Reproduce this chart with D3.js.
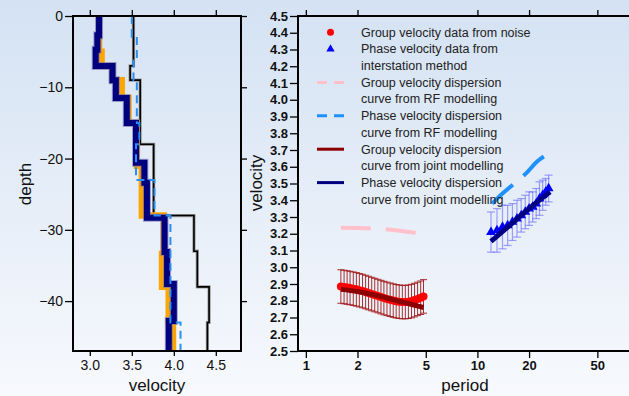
<!DOCTYPE html>
<html><head><meta charset="utf-8">
<script src="https://cdn.jsdelivr.net/npm/d3@7"></script>
<style>html,body{margin:0;padding:0;background:#fff;} svg{display:block;}</style>
</head><body>
<script>
// ---------- data ----------
const depthTicks = [0, -10, -20, -30, -40];
const velTicksLeft = [3.0, 3.5, 4.0, 4.5];
const velTicksRight = [2.5,2.6,2.7,2.8,2.9,3.0,3.1,3.2,3.3,3.4,3.5,3.6,3.7,3.8,3.9,4.0,4.1,4.2,4.3,4.4,4.5];
const periodTicks = [1, 2, 5, 10, 20, 50];
const periodTicksTop = [1, 2, 10, 20, 50];

// depth profiles: layer boundaries (km) and layer velocities
const initDepth = [0, 7, 9, 18, 28, 33, 38, 43, 47];
const initVel   = [3.52, 3.48, 3.60, 3.76, 4.24, 4.28, 4.42, 4.40];
const orangeDepth = [0, 5, 7, 9, 11.5, 15, 21, 28, 33.4, 38, 43, 47];
const orangeVel   = [3.11, 3.14, 3.27, 3.38, 3.46, 3.56, 3.62, 3.88, 3.86, 3.94, 3.99];
const jointDepth = [0, 2.7, 4.75, 7, 9, 11.5, 15, 20.6, 23.4, 28.3, 33.1, 37.6, 42.8, 47];
const jointVel   = [3.11, 3.09, 3.07, 3.27, 3.31, 3.44, 3.55, 3.65, 3.68, 3.89, 3.92, 4.00, 3.94];
const rfDepth = [0, 2.9, 6, 9, 15, 18, 23, 28, 43, 47];
const rfVel   = [3.50, 3.56, 3.52, 3.56, 3.59, 3.55, 3.77, 3.96, 4.08];

// dispersion data
const groupPeriod = [1.6,1.67,1.74,1.81,1.89,1.97,2.05,2.14,2.23,2.32,2.42,2.52,2.63,2.74,2.85,2.97,3.1,3.23,3.36,3.5,3.65,3.8,3.96,4.13,4.3,4.48,4.67,4.85];
const groupVel    = [2.885,2.882,2.879,2.876,2.872,2.868,2.863,2.858,2.852,2.846,2.840,2.834,2.828,2.822,2.816,2.811,2.806,2.801,2.797,2.794,2.792,2.792,2.794,2.798,2.804,2.811,2.818,2.826];
const groupErr    = [0.10,0.10,0.10,0.10,0.10,0.10,0.10,0.10,0.10,0.10,0.10,0.10,0.10,0.10,0.10,0.10,0.10,0.10,0.10,0.10,0.10,0.10,0.10,0.10,0.10,0.10,0.10,0.10];
const phasePeriod = [12,13,14,15,16,17,18,19,20,21,22,23,24,25,26];
const phaseVel    = [3.21,3.22,3.24,3.25,3.27,3.29,3.31,3.33,3.35,3.36,3.38,3.41,3.43,3.45,3.47];
const phaseErr    = [0.12,0.13,0.13,0.12,0.11,0.11,0.10,0.10,0.10,0.09,0.09,0.10,0.09,0.08,0.08];

const rfGroupPeriod = [1.6, 2, 2.5, 3, 3.5, 4, 4.5];
const rfGroupVel    = [3.236, 3.235, 3.232, 3.226, 3.218, 3.211, 3.205];
const rfPhasePeriod = [12.2, 14, 16.2, 19.4, 22.2, 26.2];
const rfPhaseVel    = [3.38, 3.44, 3.495, 3.565, 3.63, 3.68];
const jointGroupPeriod = [1.6, 2, 2.5, 3, 3.5, 4, 4.5, 4.85];
const jointGroupVel    = [2.868, 2.855, 2.835, 2.815, 2.797, 2.782, 2.768, 2.76];
const jointPhasePeriod = [12, 15, 20, 26.5];
const jointPhaseVel    = [3.155, 3.24, 3.35, 3.45];

const legendLabels = [
  ["Group velocity data from noise"],
  ["Phase velocity data from", "interstation method"],
  ["Group velocity dispersion", "curve from RF modelling"],
  ["Phase velocity dispersion", "curve from RF modelling"],
  ["Group velocity dispersion", "curve from joint modelling"],
  ["Phase velocity dispersion", "curve from joint modelling"]
];

// ---------- drawing ----------
const W = 629, H = 396;
const FONT = "'Liberation Sans', Arial, Helvetica, sans-serif";
const svg = d3.select("body").append("svg").attr("width", W).attr("height", H)
  .style("font-family", FONT);

const defs = svg.append("defs");
const grad = defs.append("linearGradient").attr("id", "bg").attr("x1", 0).attr("y1", 0).attr("x2", 0).attr("y2", 1);
grad.append("stop").attr("offset", "0%").attr("stop-color", "#d4e2f3");
grad.append("stop").attr("offset", "100%").attr("stop-color", "#f7f9fd");
svg.append("rect").attr("width", W).attr("height", H).attr("fill", "url(#bg)");

// ---- left panel ----
const L = {x0: 73, x1: 241, y0: 16, y1: 351};
const xL = d3.scaleLinear().domain([2.8, 4.8]).range([L.x0, L.x1]);
const yL = d3.scaleLinear().domain([0, -47]).range([L.y0, L.y1]);

function stepPts(depths, vels) {
  const pts = [];
  vels.forEach((v, i) => { pts.push([v, -depths[i]]); pts.push([v, -depths[i + 1]]); });
  return pts;
}
const lineL = d3.line().x(d => xL(d[0])).y(d => yL(d[1]));
const gL = svg.append("g");
gL.append("path").attr("d", lineL(stepPts(initDepth, initVel))).attr("fill", "none")
  .attr("stroke", "#9a9a9a").attr("stroke-width", 3.2);
gL.append("path").attr("d", lineL(stepPts(initDepth, initVel))).attr("fill", "none")
  .attr("stroke", "#000").attr("stroke-width", 1.6);
gL.append("path").attr("d", lineL(stepPts(orangeDepth, orangeVel))).attr("fill", "none")
  .attr("stroke", "#ffa500").attr("stroke-width", 6.5);
gL.append("path").attr("d", lineL(stepPts(jointDepth, jointVel))).attr("fill", "none")
  .attr("stroke", "#6a6ab8").attr("stroke-width", 8).attr("stroke-opacity", 0.6);
gL.append("path").attr("d", lineL(stepPts(jointDepth, jointVel))).attr("fill", "none")
  .attr("stroke", "#00007e").attr("stroke-width", 6);
gL.append("path").attr("d", lineL(stepPts(rfDepth, rfVel))).attr("fill", "none")
  .attr("stroke", "#2a8ff0").attr("stroke-width", 2).attr("stroke-dasharray", "8,5");

svg.append("rect").attr("x", L.x0).attr("y", L.y0).attr("width", L.x1 - L.x0).attr("height", L.y1 - L.y0)
  .attr("fill", "none").attr("stroke", "#000").attr("stroke-width", 2);

function styleAxis(g, fs, weight) {
  g.select(".domain").remove();
  g.selectAll(".tick line").attr("stroke", "#000").attr("stroke-width", 1.3);
  g.selectAll(".tick text").attr("fill", "#111").style("font-size", fs + "px").style("font-weight", weight).style("font-family", FONT);
}
svg.append("g").attr("transform", `translate(${L.x0},0)`)
  .call(d3.axisLeft(yL).tickValues(depthTicks).tickSize(8).tickPadding(2))
  .call(g => styleAxis(g, 14, "normal"));
svg.append("g").attr("transform", `translate(${L.x1},0)`)
  .call(d3.axisRight(yL).tickValues(depthTicks).tickSize(6).tickFormat(""))
  .call(g => styleAxis(g, 14, "normal"));
svg.append("g").attr("transform", `translate(0,${L.y1})`)
  .call(d3.axisBottom(xL).tickValues(velTicksLeft).tickSize(5).tickPadding(4).tickFormat(d3.format(".1f")))
  .call(g => styleAxis(g, 14, "normal"));
svg.append("g").attr("transform", `translate(0,${L.y0})`)
  .call(d3.axisTop(xL).tickValues(velTicksLeft).tickSize(6).tickFormat(""))
  .call(g => styleAxis(g, 14, "normal"));

svg.append("text").attr("x", 157).attr("y", 391).attr("text-anchor", "middle")
  .style("font-size", "17px").style("font-weight", "normal").attr("fill", "#111").text("velocity");
svg.append("text").attr("transform", "translate(31,184) rotate(-90)").attr("text-anchor", "middle")
  .style("font-size", "17px").style("font-weight", "normal").attr("fill", "#111").text("depth");

// ---- right panel ----
const R = {x0: 298, x1: 649, y0: 16, y1: 351};
const xR = d3.scaleLog().domain([0.9, 100]).range([R.x0, R.x1]);
const yR = d3.scaleLinear().domain([2.5, 4.5]).range([R.y1, R.y0]);
const lineR = d3.line().x(d => xR(d[0])).y(d => yR(d[1])).curve(d3.curveMonotoneX);
const gR = svg.append("g");

gR.append("path").attr("d", lineR(rfGroupPeriod.map((p, i) => [p, rfGroupVel[i]])))
  .attr("fill", "none").attr("stroke", "#ffc0cb").attr("stroke-width", 4).attr("stroke-dasharray", "30,15");
gR.append("path").attr("d", lineR(rfPhasePeriod.map((p, i) => [p, rfPhaseVel[i]])))
  .attr("fill", "none").attr("stroke", "#1e90ff").attr("stroke-width", 4).attr("stroke-dasharray", "28,14");

// group error bars
const ge = gR.append("g").attr("stroke", "#a01818").attr("stroke-width", 1).attr("stroke-opacity", 0.9);
groupPeriod.forEach((p, i) => {
  const x = xR(p), yt = yR(groupVel[i] + groupErr[i]), yb = yR(groupVel[i] - groupErr[i]);
  ge.append("line").attr("x1", x).attr("x2", x).attr("y1", yt).attr("y2", yb);
  ge.append("line").attr("x1", x - 3.5).attr("x2", x + 3.5).attr("y1", yt).attr("y2", yt);
  ge.append("line").attr("x1", x - 3.5).attr("x2", x + 3.5).attr("y1", yb).attr("y2", yb);
});
gR.append("g").selectAll("circle").data(groupPeriod).join("circle")
  .attr("cx", d => xR(d)).attr("cy", (d, i) => yR(groupVel[i])).attr("r", 4).attr("fill", "#ff0000");

// phase error bars
const pe = gR.append("g").attr("stroke", "#5a5aff").attr("stroke-width", 1.2).attr("stroke-opacity", 0.55);
phasePeriod.forEach((p, i) => {
  const x = xR(p), yt = yR(phaseVel[i] + phaseErr[i]), yb = yR(phaseVel[i] - phaseErr[i]);
  pe.append("line").attr("x1", x).attr("x2", x).attr("y1", yt).attr("y2", yb);
  pe.append("line").attr("x1", x - 4).attr("x2", x + 4).attr("y1", yt).attr("y2", yt);
  pe.append("line").attr("x1", x - 4).attr("x2", x + 4).attr("y1", yb).attr("y2", yb);
});
const tri = d3.symbol().type(d3.symbolTriangle).size(42);
gR.append("g").selectAll("path").data(phasePeriod).join("path")
  .attr("d", tri).attr("transform", (d, i) => `translate(${xR(d)},${yR(phaseVel[i])})`).attr("fill", "#0000ff");

gR.append("path").attr("d", lineR(jointGroupPeriod.map((p, i) => [p, jointGroupVel[i]])))
  .attr("fill", "none").attr("stroke", "#8b0000").attr("stroke-width", 5);
gR.append("path").attr("d", lineR(jointPhasePeriod.map((p, i) => [p, jointPhaseVel[i]])))
  .attr("fill", "none").attr("stroke", "#000080").attr("stroke-width", 5);

svg.append("rect").attr("x", R.x0).attr("y", R.y0).attr("width", R.x1 - R.x0).attr("height", R.y1 - R.y0)
  .attr("fill", "none").attr("stroke", "#000").attr("stroke-width", 2);

svg.append("g").attr("transform", `translate(${R.x0},0)`)
  .call(d3.axisLeft(yR).tickValues(velTicksRight).tickSize(8).tickPadding(2).tickFormat(d3.format(".1f")))
  .call(g => styleAxis(g, 13, "bold"));
svg.append("g").attr("transform", `translate(0,${R.y1})`)
  .call(d3.axisBottom(xR).tickValues(periodTicks).tickSize(7).tickPadding(3).tickFormat(d3.format("d")))
  .call(g => styleAxis(g, 13, "bold"));
svg.append("g").attr("transform", `translate(0,${R.y0})`)
  .call(d3.axisTop(xR).tickValues(periodTicksTop).tickSize(6).tickFormat(""))
  .call(g => styleAxis(g, 13, "bold"));

svg.append("text").attr("x", 465).attr("y", 391).attr("text-anchor", "middle")
  .style("font-size", "17px").style("font-weight", "normal").attr("fill", "#111").text("period");
svg.append("text").attr("transform", "translate(262,183) rotate(-90)").attr("text-anchor", "middle")
  .style("font-size", "17px").style("font-weight", "normal").attr("fill", "#111").text("velocity");

// ---- legend ----
const leg = svg.append("g");
const lineStep = 16.7, legY0 = 32.3, textX = 361, symX0 = 317, symX1 = 344;
let row = 0;
legendLabels.forEach((lines, k) => {
  const y = legY0 + row * lineStep;
  const cx = (symX0 + symX1) / 2;
  if (k === 0) leg.append("circle").attr("cx", cx).attr("cy", y).attr("r", 3.5).attr("fill", "#ff0000");
  if (k === 1) leg.append("path").attr("d", d3.symbol().type(d3.symbolTriangle).size(30)).attr("transform", `translate(${cx},${y})`).attr("fill", "#0000ff");
  if (k === 2) leg.append("line").attr("x1", symX0).attr("x2", symX1).attr("y1", y).attr("y2", y).attr("stroke", "#ffc0cb").attr("stroke-width", 3).attr("stroke-dasharray", "10,7");
  if (k === 3) leg.append("line").attr("x1", symX0).attr("x2", symX1).attr("y1", y).attr("y2", y).attr("stroke", "#1e90ff").attr("stroke-width", 3).attr("stroke-dasharray", "10,7");
  if (k === 4) leg.append("line").attr("x1", symX0).attr("x2", symX1).attr("y1", y).attr("y2", y).attr("stroke", "#8b0000").attr("stroke-width", 3);
  if (k === 5) leg.append("line").attr("x1", symX0).attr("x2", symX1).attr("y1", y).attr("y2", y).attr("stroke", "#000080").attr("stroke-width", 3);
  lines.forEach(t => {
    leg.append("text").attr("x", textX).attr("y", legY0 + row * lineStep).attr("dy", "0.35em")
      .style("font-size", "12.5px").style("font-weight", "normal").attr("fill", "#222").text(t);
    row++;
  });
});
</script>
</body></html>
